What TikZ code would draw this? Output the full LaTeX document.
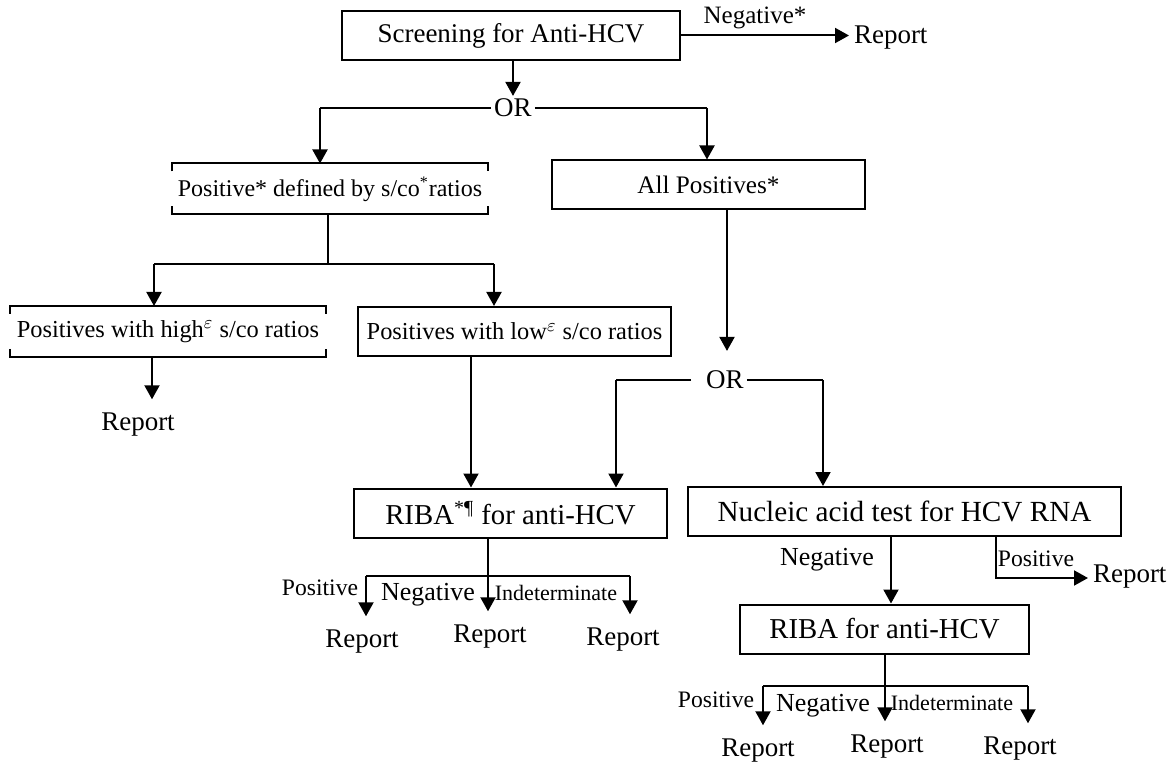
\documentclass[tikz,border=0pt]{standalone}
\usepackage{fontspec}
\setmainfont{Liberation Serif}
\usetikzlibrary{arrows.meta,positioning,calc}
\newcommand{\fsz}[1]{\fontsize{#1}{#1}\selectfont}

\begin{document}
\begin{tikzpicture}[
      x=0.5pt, y=-0.5pt,
      line width=1pt,
      box/.style={draw, inner sep=0pt, minimum height=24.5pt},
      openbox/.style={inner sep=0pt, minimum height=24.5pt},
      lbl/.style={inner sep=1pt},
      rep/.style={inner sep=1pt, outer ysep=6pt, font=\fsz{13.5}},
      orlbl/.style={inner sep=1pt, font=\fsz{13.5}},
      arr/.style={-{Triangle[length=7pt,width=7.5pt]}}
    ]
    \useasboundingbox (0,0) rectangle (1175,765);
    % top level
    \node[box, minimum width=169pt, font=\fsz{13.5}] (screen) at (511,35.5) {Screening for Anti-HCV};
    \node[lbl, font=\fsz{12.5}] (negA) at (755,18) {Negative*};
    \node[rep, anchor=west, inner xsep=2pt] (rep0) at (849,38) {Report};
    \node[orlbl] (or1) at (513,108) {OR};
    \coordinate (l1) at (320,108);
    \coordinate (r1) at (707,108);
    \node[openbox, minimum width=157pt, font=\fsz{12}] (pd) at (330,189)
      {Positive* defined by s/co\textsuperscript{*}ratios};
    \node[box, minimum width=156.5pt, font=\fsz{12.6}] (allpos) at (708.5,185) {All Positives*};
    % s/co split
    \coordinate (s1) at (328,264);
    \coordinate (l2) at (154,264);
    \coordinate (r2) at (494,264);
    \node[openbox, minimum width=157pt, font=\fsz{12.2}] (high) at (168,331.5)
      {Positives with high\textsuperscript{$\varepsilon$} s/co ratios};
    \node[box, minimum width=156.5pt, font=\fsz{12.2}] (low) at (514.5,331.5)
      {Positives with low\textsuperscript{$\varepsilon$} s/co ratios};
    \node[rep] (rep1) at (138,425) {Report};
    \node[orlbl] (or2) at (725,380) {OR};
    \coordinate (l3) at (616,380);
    \coordinate (r3) at (823,380);
    \node[box, minimum width=156.5pt, font=\fsz{14.4}] (riba1) at (510.5,513) {RIBA\textsuperscript{*¶} for anti-HCV};
    \node[box, minimum width=216.5pt, font=\fsz{14.6}] (nuc) at (904.5,511.5) {Nucleic acid test for HCV RNA};
    % RIBA results (left)
    \coordinate (b1) at (366,576);
    \coordinate (b2) at (488,576);
    \coordinate (b3) at (630,576);
    \node[rep] (rA) at (362,642) {Report};
    \node[rep] (rB) at (490,637) {Report};
    \node[rep] (rC) at (623,640) {Report};
    \node[lbl, font=\fsz{11.8}] (pA) at (320,588) {Positive};
    \node[lbl, font=\fsz{13}] (nA) at (428,595) {Negative};
    \node[lbl, font=\fsz{11}] (iA) at (556,593) {Indeterminate};
    % NAT results
    \node[box, minimum width=144.5pt, font=\fsz{14.4}] (riba2) at (884.5,629) {RIBA for anti-HCV};
    \node[lbl, font=\fsz{13}] (nB) at (827,560) {Negative};
    \coordinate (c4) at ([xshift=3.25pt]riba2.north);
    \coordinate (pp) at (996,578);
    \node[rep, anchor=west, inner xsep=2pt] (rep2) at (1088,577) {Report};
    \node[lbl, font=\fsz{11.8}] (pB) at (1036,559) {Positive};
    % RIBA results (right)
    \coordinate (d1) at (763,686);
    \coordinate (d2) at (885,686);
    \coordinate (d3) at (1028,686);
    \node[rep] (rD) at (758,751) {Report};
    \node[rep] (rE) at (887,747) {Report};
    \node[rep] (rF) at (1020,749) {Report};
    \node[lbl, font=\fsz{11.8}] (pC) at (716,700) {Positive};
    \node[lbl, font=\fsz{13}] (nC) at (823,706) {Negative};
    \node[lbl, font=\fsz{11}] (iC) at (952,703) {Indeterminate};
    \coordinate (hr) at ([xshift=-8pt]high.south);
    \coordinate (lr) at ([xshift=-21.75pt]low.south);
    \coordinate (ar) at ([xshift=9.25pt]allpos.south);

    % open boxes
    \draw ([yshift=-4pt]pd.north west) -- (pd.north west) -- (pd.north east) -- ([yshift=-4pt]pd.north east);
    \draw ([yshift=4pt]pd.south west) -- (pd.south west) -- (pd.south east) -- ([yshift=4pt]pd.south east);
    \draw ([yshift=-4pt]high.north west) -- (high.north west) -- (high.north east) -- ([yshift=-4pt]high.north east);
    \draw ([yshift=4pt]high.south west) -- (high.south west) -- (high.south east) -- ([yshift=4pt]high.south east);

    \draw[arr] (screen.east) -- (screen.east -| rep0.west);
    \draw[arr] (screen.south -| or1) -- (or1.north);
    \draw (or1.west) -- (l1);
    \draw[arr] (l1) -- (l1 |- pd.north);
    \draw (or1.east) -- (r1);
    \draw[arr] (r1) -- (r1 |- allpos.north);
    \draw (pd.south -| s1) -- (s1);
    \draw (l2) -- (r2);
    \draw[arr] (l2) -- (l2 |- high.north);
    \draw[arr] (r2) -- (r2 |- low.north);
    \draw[arr] (hr) -- (hr |- rep1.north);
    \draw[arr] (lr) -- (lr |- riba1.north);
    \draw[arr, shorten >=8.5pt] (ar) -- (ar |- or2.north);
    \draw[shorten <=6pt] (or2.west) -- (l3);
    \draw[arr] (l3) -- (l3 |- riba1.north);
    \draw (or2.east) -- (r3);
    \draw[arr] (r3) -- (r3 |- nuc.north);

    \draw (b2 |- riba1.south) -- (b2);
    \draw (b1) -- (b3);
    \draw[arr] (b1) -- (b1 |- rA.north);
    \draw[arr] (b2) -- (b2 |- rB.north);
    \draw[arr] (b3) -- (b3 |- rC.north);

    \draw[arr] (c4 |- nuc.south) -- (c4);
    \draw[arr] (pp |- nuc.south) -- (pp) -- (pp -| rep2.west);

    \draw (d2 |- riba2.south) -- (d2);
    \draw (d1) -- (d3);
    \draw[arr] (d1) -- (d1 |- rD.north);
    \draw[arr] (d2) -- (d2 |- rE.north);
    \draw[arr] (d3) -- (d3 |- rF.north);
  \end{tikzpicture}
\end{document}
